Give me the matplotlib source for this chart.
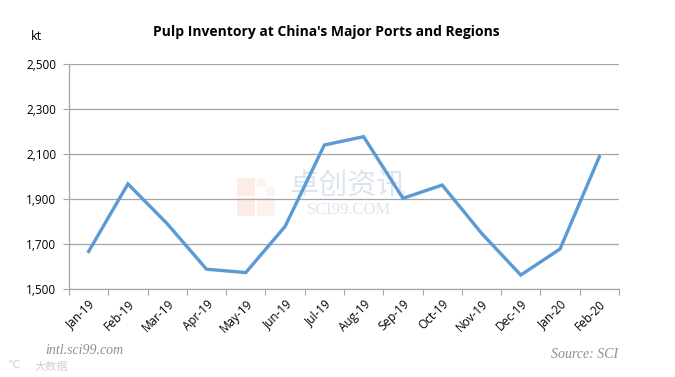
import matplotlib
matplotlib.use("Agg")
import matplotlib.pyplot as plt
from matplotlib.patches import Rectangle

months = ["Jan-19", "Feb-19", "Mar-19", "Apr-19", "May-19", "Jun-19", "Jul-19",
          "Aug-19", "Sep-19", "Oct-19", "Nov-19", "Dec-19", "Jan-20", "Feb-20"]
inventory = [1667, 1967, 1790, 1588, 1573, 1778, 2140,
             2177, 1903, 1962, 1748, 1562, 1678, 2088]
y_ticks = [1500, 1700, 1900, 2100, 2300, 2500]

plt.rcParams['font.family'] = ['Open Sans', 'DejaVu Sans']

fig = plt.figure(figsize=(6.75, 3.77), dpi=100)
ax = fig.add_axes([69/675, 1-289/377, 550/675, 225/377])
ax.patch.set_alpha(0)

x = list(range(len(months)))
ax.plot(x, inventory, color="#5B9BD5", lw=2.4, solid_joinstyle="miter", zorder=3)

ax.set_xlim(-0.5, len(months) - 0.5)
ax.set_ylim(1500, 2500)
ax.set_yticks(y_ticks)
ax.set_yticklabels([f"{v:,}" for v in y_ticks], fontsize=8.5)
ax.yaxis.grid(True, color="#A6A6A6", lw=0.9)
ax.set_axisbelow(True)

ax.set_xticks([i - 0.5 for i in range(len(months) + 1)], minor=False)
ax.set_xticklabels([])
ax.set_xticks(x, minor=True)
ax.set_xticklabels(months, minor=True, rotation=45, ha="right", va="top",
                   rotation_mode="anchor", fontsize=8.5)
ax.tick_params(axis="x", which="major", length=4, color="#A6A6A6", direction="out")
ax.tick_params(axis="x", which="minor", length=0, pad=6)
ax.tick_params(axis="y", length=4, color="#A6A6A6", pad=5)

for s in ["top", "right"]:
    ax.spines[s].set_visible(False)
for s in ["left", "bottom"]:
    ax.spines[s].set_color("#A6A6A6")
    ax.spines[s].set_linewidth(0.9)

fig.text(326/675, 1-32/377, "Pulp Inventory at China's Major Ports and Regions",
         ha="center", va="center", fontsize=10, fontweight="bold")
fig.text(37/675, 1-36/377, "kt", ha="center", va="center", fontsize=9)

# watermark logo (behind the line)
for (cx, cy, w, h, a) in [(237, 178, 18, 18, 0.25), (237, 198, 18, 18, 0.25),
                          (257, 198, 18, 18, 0.18), (257, 178, 9, 9, 0.15),
                          (266, 187, 9, 9, 0.15)]:
    fig.patches.append(Rectangle((cx/675, 1-(cy+h)/377), w/675, h/377,
                                 transform=fig.transFigure, color="#F4B69A",
                                 alpha=a, lw=0, zorder=-1))
fig.text(348/675, 1-186/377, "卓创资讯", ha="center", va="center", fontsize=21,
         color="#C9D3E3", alpha=0.6, zorder=-1,
         family=["Noto Sans CJK SC", "DejaVu Sans"])
fig.text(349/675, 1-210/377, "SCI99.COM", ha="center", va="center", fontsize=12,
         color="#C9D3E3", alpha=0.6, zorder=-1, family="Liberation Serif")

fig.text(45/675, 1-350/377, "intl.sci99.com", ha="left", va="center", fontsize=10,
         style="italic", color="#909090", family="Liberation Serif")
fig.text(34/675, 1-367/377, "大数据", ha="left", va="center", fontsize=8,
         color="#D0D0D0", family=["Noto Sans CJK SC", "DejaVu Sans"])
fig.text(8/675, 1-366/377, "℃", ha="left", va="center", fontsize=8,
         color="#D0D0D0")
fig.text(618/675, 1-354/377, "Source: SCI", ha="right", va="center", fontsize=10,
         style="italic", color="#909090", family="Liberation Serif")

fig.savefig("out.png", dpi=100)
